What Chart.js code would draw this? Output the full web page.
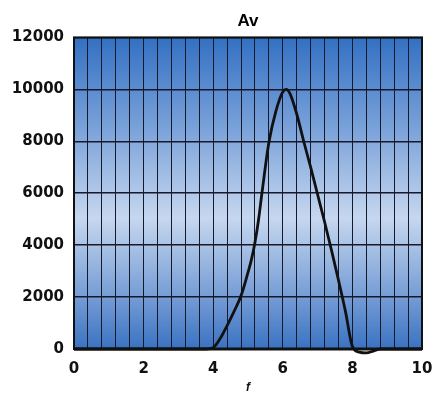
<!DOCTYPE html>
<html>
<head>
<meta charset="utf-8">
<script src="https://cdn.jsdelivr.net/npm/chart.js@4/dist/chart.umd.min.js"></script>
<style>
  html, body { margin: 0; padding: 0; background: #fff; }
  #wrap { width: 432px; height: 395px; }
</style>
</head>
<body>
<div id="wrap"><canvas id="c" width="432" height="395"></canvas></div>
<script>
// values
const fValues = [0, 1, 2, 3, 3.8, 4.0, 4.2, 4.4, 4.6, 4.8, 5.0, 5.1, 5.2, 5.3, 5.4, 5.6, 5.8, 6.0, 6.1, 6.2, 6.4, 6.6, 6.8, 7.0, 7.2, 7.4, 7.6, 7.8, 8.0, 8.2, 8.4, 8.6, 8.8, 9.0, 10];
const avValues = [0, 0, 0, 0, 0, 50, 400, 900, 1450, 2050, 2950, 3450, 4100, 4950, 6000, 7950, 9150, 9900, 10000, 9850, 9050, 8000, 7000, 5950, 4900, 3800, 2650, 1450, 100, -120, -150, -80, 0, 0, 0];
const xLabelTicks = [0, 2, 4, 6, 8, 10];
const yTicks = [0, 2000, 4000, 6000, 8000, 10000, 12000];
const xGridStep = 0.4;

const points = fValues.map((f, i) => ({ x: f, y: avValues[i] }));

// gradient background + frame around the plot area
const plotBackground = {
  id: "plotBackground",
  beforeDraw(chart) {
    const { ctx, chartArea: a } = chart;
    const g = ctx.createLinearGradient(0, a.top, 0, a.bottom);
    g.addColorStop(0, "#3370c3");
    g.addColorStop(0.3, "#7ca3da");
    g.addColorStop(0.58, "#c6d7ef");
    g.addColorStop(0.85, "#6f98d3");
    g.addColorStop(1, "#3a72c2");
    ctx.save();
    ctx.fillStyle = g;
    ctx.fillRect(a.left, a.top, a.right - a.left, a.bottom - a.top);
    ctx.restore();
  },
  afterDraw(chart) {
    const { ctx, chartArea: a } = chart;
    ctx.save();
    ctx.strokeStyle = "#111";
    ctx.lineWidth = 2;
    ctx.strokeRect(a.left, a.top, a.right - a.left, a.bottom - a.top);
    ctx.lineWidth = 3;
    ctx.beginPath();
    ctx.moveTo(a.left, a.bottom);
    ctx.lineTo(a.right, a.bottom);
    ctx.stroke();
    ctx.restore();
  }
};

const tickFont = { family: "DejaVu Sans, sans-serif", size: 15, weight: "bold" };

new Chart(document.getElementById("c"), {
  type: "line",
  data: {
    datasets: [{
      data: points,
      borderColor: "#111",
      borderWidth: 2.8,
      pointRadius: 0,
      cubicInterpolationMode: "monotone",
      clip: 8,
      fill: false
    }]
  },
  options: {
    responsive: false,
    animation: false,
    layout: { padding: { left: 0, right: 10, top: 0, bottom: 0 } },
    plugins: {
      legend: { display: false },
      tooltip: { enabled: false },
      title: {
        display: true,
        fullSize: false,
        text: "Av",
        color: "#000",
        font: { family: "Liberation Sans, Arial, sans-serif", size: 17, weight: "bold" },
        padding: { top: 11, bottom: 6 }
      }
    },
    scales: {
      x: {
        type: "linear",
        min: 0,
        max: 10,
        afterBuildTicks(scale) {
          const n = Math.round((scale.max - scale.min) / xGridStep);
          const t = [];
          for (let i = 0; i <= n; i++) t.push({ value: +(scale.min + i * xGridStep).toFixed(2) });
          scale.ticks = t;
        },
        afterFit(scale) {
          scale.height = 46;
          scale.paddingLeft = 0;
          scale.paddingRight = 0;
        },
        ticks: {
          autoSkip: false,
          maxRotation: 0,
          padding: 11,
          color: "#111",
          font: tickFont,
          callback: v => (xLabelTicks.some(t => Math.abs(t - v) < 1e-6) ? String(Math.round(v)) : "")
        },
        grid: { color: "#15192a", lineWidth: 1, drawTicks: false },
        border: { display: false },
        title: {
          display: true,
          text: "f",
          color: "#111",
          font: { family: "Liberation Sans, Arial, sans-serif", size: 12, weight: "bold", style: "italic" },
          padding: { top: 5, bottom: 0 }
        }
      },
      y: {
        min: 0,
        max: 12000,
        afterBuildTicks(scale) { scale.ticks = yTicks.map(v => ({ value: v })); },
        afterFit(scale) { scale.width = 74; },
        ticks: { padding: 10, color: "#111", font: tickFont, callback: v => String(v) },
        grid: { color: "#15192a", lineWidth: 1.5, drawTicks: false },
        border: { display: false }
      }
    }
  },
  plugins: [plotBackground]
});
</script>
</body>
</html>
